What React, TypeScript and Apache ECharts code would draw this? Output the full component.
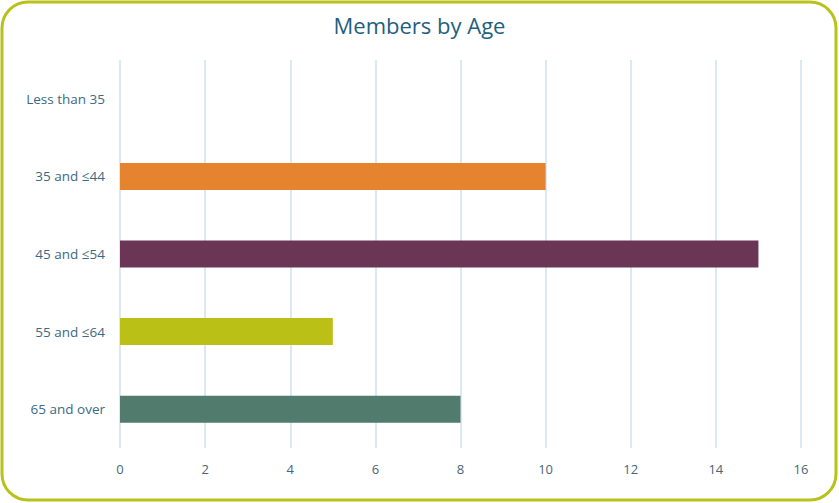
import React, { useEffect, useRef } from "react";
import * as echarts from "echarts";

const categories = ["Less than 35", "35 and ≤44", "45 and ≤54", "55 and ≤64", "65 and over"];
const values = [0, 10, 15, 5, 8];
const barColors = ["#4f81bd", "#e5832f", "#6b3656", "#bac015", "#517b6c"];
const xTicks = { min: 0, max: 16, interval: 2 };

export default function App() {
  const ref = useRef<HTMLDivElement>(null);
  useEffect(() => {
    document.body.style.margin = "0";
    const chart = echarts.init(ref.current!, null, { renderer: "svg" });
    chart.setOption({
      animation: false,
      backgroundColor: "#ffffff",
      title: {
        text: "Members by Age",
        left: "center",
        top: 9,
        textStyle: { color: "#1f5f80", fontSize: 22, fontWeight: "normal", fontFamily: "Open Sans" },
      },
      graphic: [
        {
          type: "rect",
          shape: { x: 2, y: 2, width: 834, height: 498, r: 26 },
          style: { fill: "none", stroke: "#b9c21d", lineWidth: 3 },
          silent: true,
          z: 100,
        },
      ],
      grid: { left: 120, right: 38, top: 60, bottom: 55, containLabel: false },
      xAxis: {
        type: "value",
        min: xTicks.min,
        max: xTicks.max,
        interval: xTicks.interval,
        axisLine: { show: false },
        axisTick: { show: false },
        splitLine: { lineStyle: { color: "#cfe2f3", width: 1.5 } },
        axisLabel: { color: "#4a6675", fontSize: 13, margin: 14, fontFamily: "Open Sans" },
      },
      yAxis: {
        type: "category",
        data: categories,
        inverse: true,
        axisLine: { show: false },
        axisTick: { show: false },
        axisLabel: { color: "#3b6a84", fontSize: 13.5, margin: 15, fontFamily: "Open Sans" },
      },
      series: [
        {
          type: "bar",
          barWidth: 27,
          data: values.map((v, i) => ({ value: v, itemStyle: { color: barColors[i] } })),
        },
      ],
    });
    return () => chart.dispose();
  }, []);
  return <div ref={ref} style={{ width: 839, height: 503 }} />;
}
